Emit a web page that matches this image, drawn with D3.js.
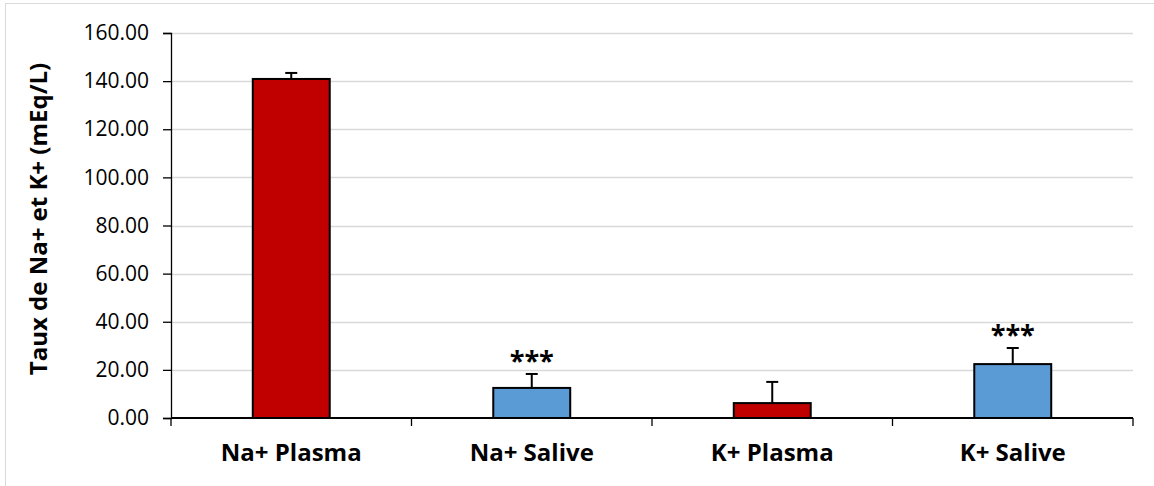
<!DOCTYPE html>
<html><head><meta charset="utf-8">
<script src="https://cdn.jsdelivr.net/npm/d3@7"></script>
<style>body{margin:0;background:#fff}svg{display:block}</style>
</head><body><svg id="c" width="1154" height="486"></svg>
<script>
const categories = ["Na+ Plasma", "Na+ Salive", "K+ Plasma", "K+ Salive"];
const values = [140.9, 12.5, 6.2, 22.4];
const errors = [2.5, 5.8, 8.8, 6.7];
const colors = ["#c00000", "#5b9bd5", "#c00000", "#5b9bd5"];
const signif = ["", "***", "", "***"];
const yTicks = [0, 20, 40, 60, 80, 100, 120, 140, 160];

const svg = d3.select("#c");
const font = "'Open Sans', sans-serif";
svg.append("rect").attr("x", 5.5).attr("y", 3.5).attr("width", 1160).attr("height", 500)
  .attr("fill", "#fff").attr("stroke", "#d9d9d9").attr("stroke-width", 1);

const L = 171, R = 1133, T = 33, B = 418;
const x = d3.scaleBand().domain(categories).range([L, R]).paddingInner(0.68).paddingOuter(0.34);
const xb = d3.scaleBand().domain(categories).range([L, R]);
const y = d3.scaleLinear().domain([0, 160]).range([B, T]);

// grid
svg.append("g").selectAll("line").data(yTicks.slice(1)).join("line")
  .attr("x1", L).attr("x2", R).attr("y1", d => Math.round(y(d)) + 0.5).attr("y2", d => Math.round(y(d)) + 0.5)
  .attr("stroke", "#d9d9d9").attr("stroke-width", 1.3);

// y axis
const ya = svg.append("g").attr("transform", `translate(${L},0)`)
  .call(d3.axisLeft(y).tickValues(yTicks).tickFormat(d3.format(".2f")).tickSize(8).tickPadding(14));
ya.select(".domain").attr("stroke", "#000").attr("stroke-width", 1.3);
ya.selectAll(".tick line").attr("stroke", "#000").attr("stroke-width", 1.3);
ya.selectAll("text").attr("font-family", font).attr("font-size", 21).attr("fill", "#000");

// bars
svg.append("g").selectAll("rect").data(categories).join("rect")
  .attr("x", d => x(d)).attr("width", x.bandwidth())
  .attr("y", (d, i) => y(values[i])).attr("height", (d, i) => B - y(values[i]))
  .attr("fill", (d, i) => colors[i]).attr("stroke", "#000").attr("stroke-width", 2);

// error bars
const eg = svg.append("g").attr("stroke", "#000").attr("stroke-width", 2);
categories.forEach((c, i) => {
  const cx = x(c) + x.bandwidth() / 2;
  eg.append("line").attr("x1", cx).attr("x2", cx).attr("y1", y(values[i])).attr("y2", y(values[i] + errors[i]));
  eg.append("line").attr("x1", cx - 6).attr("x2", cx + 6).attr("y1", y(values[i] + errors[i])).attr("y2", y(values[i] + errors[i]));
});

// significance
svg.append("g").selectAll("text").data(categories).join("text")
  .attr("x", d => x(d) + x.bandwidth() / 2)
  .attr("y", (d, i) => y(values[i] + errors[i]) - 4)
  .attr("text-anchor", "middle").attr("font-family", font).attr("font-weight", "bold")
  .attr("font-size", 27).text((d, i) => signif[i]);

// x axis
svg.append("line").attr("x1", L).attr("x2", R).attr("y1", B).attr("y2", B).attr("stroke", "#000").attr("stroke-width", 2);
svg.append("g").selectAll("line").data([...categories.map(c => xb(c)), R]).join("line")
  .attr("x1", d => d).attr("x2", d => d).attr("y1", B).attr("y2", B + 8)
  .attr("stroke", "#000").attr("stroke-width", 1.3);
svg.append("g").selectAll("text").data(categories).join("text")
  .attr("x", d => xb(d) + xb.bandwidth() / 2).attr("y", 461)
  .attr("text-anchor", "middle").attr("font-family", font).attr("font-weight", "bold")
  .attr("font-size", 24).attr("fill", "#000").text(d => d);

// y title
svg.append("text").attr("transform", `translate(47,219) rotate(-90)`)
  .attr("text-anchor", "middle").attr("font-family", font).attr("font-weight", "bold")
  .attr("font-size", 24).text("Taux de Na+ et K+ (mEq/L)");
</script></body></html>
